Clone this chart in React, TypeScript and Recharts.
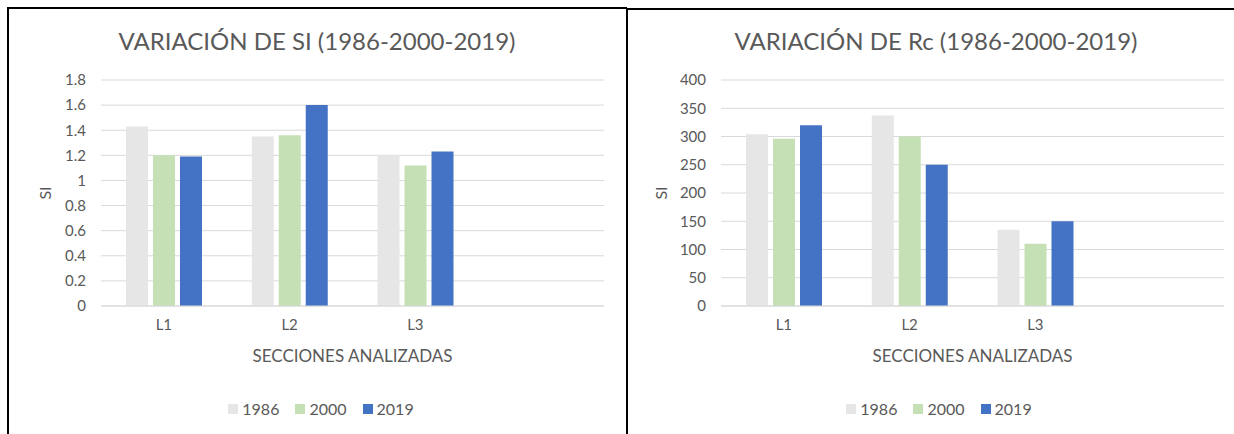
import React from "react";
import { BarChart, Bar, XAxis, YAxis, CartesianGrid } from "recharts";

const categories = ["L1", "L2", "L3", ""];
const years = ["1986", "2000", "2019"];
const colors = ["#E7E6E6", "#C5E0B4", "#4472C4"];

const si1986 = [1.43, 1.35, 1.2, null];
const si2000 = [1.2, 1.36, 1.12, null];
const si2019 = [1.19, 1.6, 1.23, null];
const siTicks = [0, 0.2, 0.4, 0.6, 0.8, 1, 1.2, 1.4, 1.6, 1.8];

const rc1986 = [304, 337, 135, null];
const rc2000 = [296, 300, 110, null];
const rc2019 = [320, 250, 150, null];
const rcTicks = [0, 50, 100, 150, 200, 250, 300, 350, 400];

const FONT = "Lato, 'Open Sans', sans-serif";
const TEXT = "#595959";
const GRID = "#D9D9D9";

function buildRows(series: (number | null)[][]) {
  return categories.map((name, i) => {
    const row: Record<string, string | number | null> = { name };
    years.forEach((y, k) => {
      row[y] = series[k][i];
    });
    return row;
  });
}

interface PanelProps {
  title: string;
  rows: Record<string, string | number | null>[];
  ticks: number[];
  width: number;
  margin: { top: number; right: number; bottom: number; left: number };
  yAxisWidth: number;
  labelOffset: number;
  titleCenter: number;
  legendCenter: number;
}

function Panel({ title, rows, ticks, width, margin, yAxisWidth, labelOffset, titleCenter, legendCenter }: PanelProps) {
  return (
    <div style={{ position: "absolute", left: 0, top: 0, width, height: 434 }}>
      <div
        style={{
          position: "absolute",
          left: titleCenter - 300,
          width: 600,
          top: 26,
          textAlign: "center",
          fontSize: 24,
          color: TEXT,
          fontFamily: FONT,
          lineHeight: "30px",
        }}
      >
        {title}
      </div>
      <BarChart width={width} height={434} data={rows} margin={margin} barSize={22} barGap={5} style={{ fontFamily: FONT }}>
        <CartesianGrid vertical={false} stroke={GRID} />
        <XAxis
          dataKey="name"
          axisLine={{ stroke: GRID }}
          tickLine={false}
          tickMargin={7}
          height={60}
          tick={{ fill: TEXT, fontSize: 15 }}
          label={{ value: "SECCIONES ANALIZADAS", position: "insideBottom", offset: 4, fill: TEXT, fontSize: 17 }}
        />
        <YAxis
          type="number"
          domain={[ticks[0], ticks[ticks.length - 1]]}
          ticks={ticks}
          interval={0}
          width={yAxisWidth}
          axisLine={false}
          tickLine={false}
          tickMargin={9}
          tick={{ fill: TEXT, fontSize: 15 }}
          label={{
            value: "SI",
            angle: -90,
            position: "insideLeft",
            offset: labelOffset,
            fill: TEXT,
            fontSize: 16,
            style: { textAnchor: "middle" },
          }}
        />
        {years.map((y, k) => (
          <Bar key={y} dataKey={y} fill={colors[k]} isAnimationActive={false} />
        ))}
      </BarChart>
      <div
        style={{
          position: "absolute",
          left: legendCenter - 150,
          width: 300,
          top: 399,
          display: "flex",
          justifyContent: "center",
          gap: 16,
          fontFamily: FONT,
          fontSize: 16,
          color: TEXT,
        }}
      >
        {years.map((y, k) => (
          <div key={y} style={{ display: "flex", alignItems: "center", gap: 4 }}>
            <span style={{ width: 10, height: 10, background: colors[k], display: "inline-block" }} />
            <span>{y}</span>
          </div>
        ))}
      </div>
    </div>
  );
}

export default function App() {
  const siRows = buildRows([si1986, si2000, si2019]);
  const rcRows = buildRows([rc1986, rc2000, rc2019]);
  return (
    <div style={{ position: "absolute", left: 0, top: 0, width: 1234, height: 434, background: "#fff", overflow: "hidden" }}>
      <div style={{ position: "absolute", left: 0, top: 0, width: 627, height: 434 }}>
        <Panel
          title="VARIACIÓN DE SI (1986-2000-2019)"
          rows={siRows}
          ticks={siTicks}
          width={627}
          margin={{ top: 80, right: 23, bottom: 68, left: 30 }}
          yAxisWidth={71}
          labelOffset={15}
          titleCenter={317}
          legendCenter={321}
        />
      </div>
      <div style={{ position: "absolute", left: 627, top: 0, width: 607, height: 434 }}>
        <Panel
          title="VARIACIÓN DE Rc (1986-2000-2019)"
          rows={rcRows}
          ticks={rcTicks}
          width={607}
          margin={{ top: 80, right: 10, bottom: 68, left: 20 }}
          yAxisWidth={74}
          labelOffset={14}
          titleCenter={309}
          legendCenter={312}
        />
      </div>
      <div style={{ position: "absolute", left: 7, top: 7, width: 620, height: 2, background: "#000" }} />
      <div style={{ position: "absolute", left: 7, top: 7, width: 2, height: 427, background: "#000" }} />
      <div style={{ position: "absolute", left: 626, top: 8, width: 608, height: 2, background: "#000" }} />
      <div style={{ position: "absolute", left: 626, top: 8, width: 2, height: 426, background: "#000" }} />
    </div>
  );
}
